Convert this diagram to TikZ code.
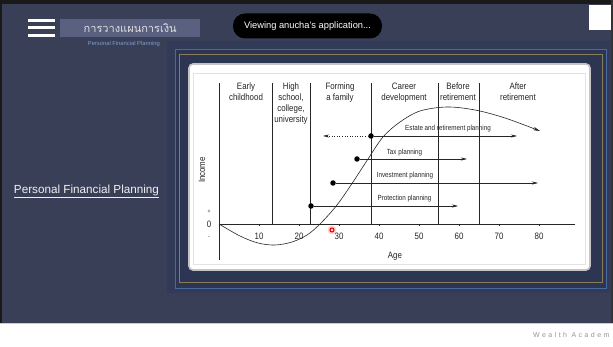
\documentclass[tikz,border=0pt]{standalone}
\usepackage{fontspec}
\setmainfont{Liberation Sans}
\newfontfamily\chartfont[FakeStretch=0.85]{Liberation Sans}
\newfontfamily\thaifont[Script=Thai]{Loma}
\usetikzlibrary{arrows.meta}
\definecolor{bgc}{HTML}{393F57}
\definecolor{panelc}{HTML}{313A57}
\definecolor{innerc}{HTML}{2C3552}
\definecolor{bluelinec}{HTML}{4A6A9E}
\definecolor{goldc}{HTML}{8A7C5A}
\definecolor{boxc}{HTML}{5A6080}
\definecolor{inkc}{HTML}{262626}
\definecolor{cardedge}{HTML}{C4C4C4}
\definecolor{subc}{HTML}{7E9CD0}
\definecolor{markc}{HTML}{959595}
\tikzset{
  heading/.style={font=\chartfont\fontsize{9.3}{11}\selectfont, text=inkc, align=center, inner sep=0pt, anchor=north},
  ticklab/.style={font=\chartfont\fontsize{9.3}{11}\selectfont, text=inkc, inner sep=0pt},
  planlab/.style={font=\chartfont\fontsize{7.4}{9}\selectfont, text=inkc, inner sep=0pt},
  dotnode/.style={circle, fill=black, inner sep=0pt, minimum size=5.5pt},
  chartline/.style={draw=inkc, line width=0.55pt},
  planarrow/.style={draw=inkc, line width=0.55pt, -{Stealth[length=6pt,width=3pt]}},
  bar/.style={fill=white},
}
\begin{document}
\begin{tikzpicture}[x=1pt,y=-1pt]
\useasboundingbox (0,0) rectangle (613,347);
% background
\fill[bgc] (0,0) rectangle (613,347);
\fill[black!90] (0,0) rectangle (613,4);
\fill[black!90] (0,0) rectangle (2,323);
\fill[black!80] (611,0) rectangle (613,323);
\fill[white] (0,323) rectangle (613,347);
\draw[gray!40] (0,323) -- (613,323);
% top bar
\fill[bar] (28,19) rectangle (55,22);
\fill[bar] (28,26.5) rectangle (55,29.5);
\fill[bar] (28,34) rectangle (55,37);
\node[fill=boxc, minimum width=140pt, minimum height=18pt, inner sep=0pt, anchor=north west] (titlebox) at (60,19) {};
\node[text=black!12, font=\thaifont\fontsize{11}{13}\selectfont] (title) at (titlebox.center) {การวางแผนการเงิน};
\node[text=subc, font=\fontsize{5.8}{7}\selectfont, anchor=east, inner sep=0pt] (subtitle) at (160,44) {Personal Financial Planning};
\node[fill=black, rounded corners=12pt, minimum width=149pt, minimum height=25pt, inner sep=0pt, text=white, font=\fontsize{9.3}{11}\selectfont] (pill) at (307.5,26) {Viewing anucha's application...};
\fill[white] (589,5) rectangle (611,30);
% left label
\node[text=black!6, font=\fontsize{11.7}{14}\selectfont, inner sep=0pt] (leftlab) at (86.5,191) {\underline{Personal Financial Planning}};
% frame
\fill[panelc] (167,41) rectangle (610,293);
\fill[innerc] (175,50) rectangle (606,289);
\draw[bluelinec, line width=1pt] (175,50) rectangle (606,289);
\draw[goldc, line width=0.8pt] (179,54) rectangle (602,282);
\draw[fill=white, draw=cardedge, line width=1.6pt, rounded corners=4pt] (189,64) rectangle (590,270);
\draw[gray!22, line width=0.5pt] (193,73) rectangle (585,264);
% axes
\draw[chartline] (219,83) -- (219,260);
\draw[chartline] (219,224) -- (575,224);
\foreach \a in {10,20,...,80} {
  \draw[chartline] ({219+4*\a},224) -- ({219+4*\a},226.5);
  \node[ticklab] at ({219+4*\a},236) {\a};
}
\node[ticklab] (zero) at (209,224) {0};
\node[ticklab, font=\chartfont\fontsize{6}{7}\selectfont] (plus) at (209,212) {+};
\node[ticklab, font=\chartfont\fontsize{6}{7}\selectfont] (minus) at (209,238) {-};
\node[ticklab] (agelab) at (395,256) {Age};
\node[ticklab, rotate=90] (incomelab) at (202,170) {Income};
% dividers
\foreach \x in {272,310,371,438,479} {
  \draw[chartline] (\x,83) -- (\x,224);
}
% headings
\node[heading] (h1) at (246,83) {Early\\childhood};
\node[heading] (h2) at (291,83) {High\\school,\\college,\\university};
\node[heading] (h3) at (340,83) {Forming\\a family};
\node[heading] (h4) at (404,83) {Career\\development};
\node[heading] (h5) at (458,83) {Before\\retirement};
\node[heading] (h6) at (518,83) {After\\retirement};
% income curve
\draw[draw=inkc, line width=0.6pt, -{Stealth[length=7pt,width=3.5pt]}]
  plot[smooth, tension=0.55] coordinates {(219,224) (240,236) (258,243) (275,245) (292,242) (307,235) (320,224) (337,205) (353,182) (368,159) (383,137) (400,122) (420,111) (447,107) (475,110) (505,118) (540,131)};
% planning arrows
\node[dotnode] (estate) at (371,136) {};
\coordinate (estateR) at (517,136);
\coordinate (estateL) at (323,136);
\draw[planarrow] (estate) -- (estateR);
\draw[draw=inkc, line width=0.55pt, dotted, -{Stealth[length=6pt,width=3pt]}] (estate) -- (estateL);
\node[planlab] (estatelab) at (448,129) {Estate and retirement planning};

\node[dotnode] (tax) at (357,159) {};
\coordinate (taxR) at (467,159);
\draw[planarrow] (tax) -- (taxR);
\node[planlab] (taxlab) at (404.5,153) {Tax planning};

\node[dotnode] (invest) at (333,183) {};
\coordinate (investR) at (538,183);
\draw[planarrow] (invest) -- (investR);
\node[planlab] (investlab) at (405,176) {Investment planning};

\node[dotnode] (protect) at (311,206) {};
\coordinate (protectR) at (458,206);
\draw[planarrow] (protect) -- (protectR);
\node[planlab] (protectlab) at (404.5,199) {Protection planning};
% cursor
\fill[red!30, opacity=0.6] (332,230) circle (4.5);
\draw[red!85!black, line width=1pt] (332,230) circle (2);
% footer
\node[text=markc, font=\fontsize{7}{8}\selectfont\addfontfeature{LetterSpace=35}, anchor=west, inner sep=0pt] (brand) at (533,335) {Wealth Academ};
\end{tikzpicture}
\end{document}
